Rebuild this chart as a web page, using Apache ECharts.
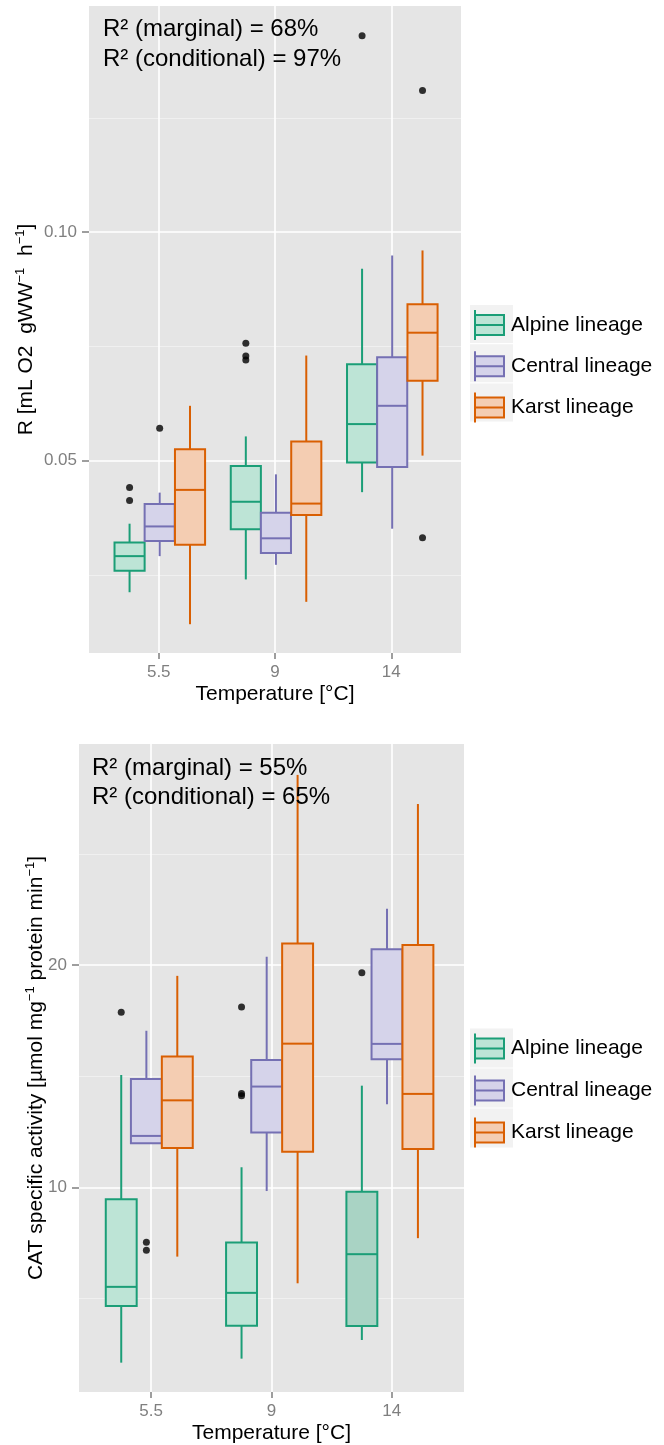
<!DOCTYPE html>
<html>
<head>
<meta charset="utf-8">
<script src="https://cdn.jsdelivr.net/npm/echarts@6/dist/echarts.min.js"></script>
<style>
html, body { margin: 0; padding: 0; background: #fff; }
#main { width: 664px; height: 1445px; }
</style>
</head>
<body>
<div id="main"></div>
<script>
var temps = ['5.5', '9', '14'];
var lineages = ['Alpine lineage', 'Central lineage', 'Karst lineage'];

// respiration, per temperature: [low, q1, median, q3, high]
var respAlpine = [[0.0212, 0.0259, 0.0291, 0.0321, 0.0362], [0.0240, 0.0350, 0.0410, 0.0488, 0.0553], [0.0431, 0.0496, 0.0580, 0.0711, 0.0920]];
var respCentral = [[0.0291, 0.0324, 0.0356, 0.0405, 0.0430], [0.0272, 0.0298, 0.0330, 0.0386, 0.0470], [0.0351, 0.0486, 0.0620, 0.0726, 0.0949]];
var respKarst = [[0.0142, 0.0316, 0.0436, 0.0525, 0.0620], [0.0191, 0.0381, 0.0406, 0.0542, 0.0730], [0.0511, 0.0675, 0.0780, 0.0842, 0.0960]];
// outliers: [temperature index, value]
var respAlpineOut = [[0, 0.0441], [0, 0.0413], [1, 0.0757], [1, 0.0729], [1, 0.0720], [2, 0.1430]];
var respCentralOut = [[0, 0.0571]];
var respKarstOut = [[2, 0.1310], [2, 0.0331]];

// CAT activity
var catAlpine = [[2.11, 4.66, 5.52, 9.46, 15.05], [2.29, 3.77, 5.25, 7.51, 10.90], [3.13, 3.76, 6.99, 9.80, 14.57]];
var catCentral = [[11.98, 11.98, 12.31, 14.87, 17.04], [9.83, 12.46, 14.53, 15.73, 20.37], [13.73, 15.76, 16.45, 20.71, 22.53]];
var catKarst = [[6.88, 11.77, 13.91, 15.88, 19.51], [5.68, 11.60, 16.46, 20.96, 28.55], [7.71, 11.72, 14.20, 20.90, 27.24]];
var catAlpineOut = [[0, 17.87], [1, 18.11], [1, 14.22], [1, 14.12], [2, 19.65]];
var catCentralOut = [[0, 7.53], [0, 7.17]];
var catKarstOut = [];

var r2Marginal = [68, 55];
var r2Conditional = [97, 65];

var respTicks = [0.05, 0.10];
var respMinor = [0.025, 0.075, 0.125];
var catTicks = [10, 20];
var catMinor = [5, 15, 25];

var FONT = '"Liberation Sans", Arial, sans-serif';
var strokes = ['#1b9e77', '#7570b3', '#d95f02'];
var fills = ['#bde4d6', '#d5d3ea', '#f4cdb2'];
var denseFill = '#a9d3c4';
var KEY_PATH = 'path://M0,0L0,30M0,5L29,5L29,25L0,25ZM0,15L29,15';

var panels = [{
	boxes: [respAlpine, respCentral, respKarst],
	outliers: [respAlpineOut, respCentralOut, respKarstOut],
	grid: { left: 89, top: 6, width: 372, height: 647 },
	yMin: 0.0079, yMax: 0.1495,
	ticks: respTicks, minor: respMinor,
	fmt: function(v) { return v.toFixed(2); },
	yName: 'R [mL O2  gWW{s|−1}  h{s|−1}]',
	yGap: 51,
	dodge: [-0.251, 0.008, 0.269],
	boxWidth: 0.259,
	dense: null,
	note: { left: 103, top: 15, lineHeight: 29.4 },
	legendTop: 309, keyGap: 9.3, bgTop: 305, bgH: 38, bgGap: 1.3
}, {
	boxes: [catAlpine, catCentral, catKarst],
	outliers: [catAlpineOut, catCentralOut, catKarstOut],
	grid: { left: 79, top: 744, width: 385, height: 648 },
	yMin: 0.79, yMax: 29.94,
	ticks: catTicks, minor: catMinor,
	fmt: function(v) { return String(v); },
	yName: 'CAT specific activity [µmol mg{s|−1} protein min{s|−1}]',
	yGap: 31,
	dodge: [-0.249, -0.040, 0.217],
	boxWidth: 0.257,
	dense: [0, 2],
	note: { left: 92, top: 754.5, lineHeight: 28.7 },
	legendTop: 1032.5, keyGap: 10, bgTop: 1028.5, bgH: 39, bgGap: 1
}];

// category i sits at x = i + 1 on the value axis
function makeRender(p, k) {
	return function(params, api) {
		var cat = api.value(0);
		var x = cat + 1 + p.dodge[k];
		var low = api.coord([x, api.value(1)]);
		var q1 = api.coord([x, api.value(2)]);
		var med = api.coord([x, api.value(3)]);
		var q3 = api.coord([x, api.value(4)]);
		var high = api.coord([x, api.value(5)]);
		var half = api.size([p.boxWidth, 0])[0] / 2;
		var fill = fills[k];
		if(p.dense && p.dense[0] === k && p.dense[1] === cat) {
			fill = denseFill;
		}
		var ls = { stroke: strokes[k], lineWidth: 2 };
		return {
			type: 'group',
			children: [
				{ type: 'line', shape: { x1: low[0], y1: low[1], x2: q1[0], y2: q1[1] }, style: ls },
				{ type: 'line', shape: { x1: q3[0], y1: q3[1], x2: high[0], y2: high[1] }, style: ls },
				{ type: 'rect', shape: { x: q3[0] - half, y: q3[1], width: half * 2, height: q1[1] - q3[1] },
					style: { fill: fill, stroke: strokes[k], lineWidth: 2 } },
				{ type: 'line', shape: { x1: med[0] - half, y1: med[1], x2: med[0] + half, y2: med[1] }, style: ls }
			]
		};
	};
}

var grids = [], xAxes = [], yAxes = [], series = [], titles = [], legends = [];

panels.forEach(function(p, pi) {
	grids.push({
		left: p.grid.left, top: p.grid.top, width: p.grid.width, height: p.grid.height,
		show: true, backgroundColor: '#e5e5e5', borderWidth: 0
	});

	xAxes.push({
		type: 'value', gridIndex: pi, min: 0.4, max: 3.6,
		name: 'Temperature [°C]', nameLocation: 'middle', nameGap: 31,
		nameTextStyle: { fontSize: 21, color: '#000', fontFamily: FONT },
		axisLine: { show: false },
		axisTick: { show: true, customValues: [1, 2, 3], length: 6, lineStyle: { color: '#7f7f7f', width: 1.5 } },
		axisLabel: { customValues: [1, 2, 3], margin: 11, fontSize: 17, color: '#7f7f7f', fontFamily: FONT,
			formatter: function(v) { return temps[Math.round(v) - 1]; } },
		splitLine: { show: true, lineStyle: { color: '#fff', width: 1.6 } }
	});

	// major y axis with labels
	yAxes.push({
		type: 'value', gridIndex: pi, min: p.yMin, max: p.yMax, position: 'left',
		name: p.yName, nameLocation: 'middle', nameGap: p.yGap, nameRotate: 90, nameMoveOverlap: false,
		nameTextStyle: {
			fontSize: 21, color: '#000', fontFamily: FONT, lineHeight: 24,
			rich: { s: { fontSize: 13, fontFamily: FONT, color: '#000', verticalAlign: 'top', lineHeight: 13 } }
		},
		axisLine: { show: false },
		axisTick: { show: true, customValues: p.ticks, length: 7, lineStyle: { color: '#7f7f7f', width: 1.5 } },
		axisLabel: { customValues: p.ticks, margin: 12, fontSize: 17, color: '#7f7f7f', fontFamily: FONT, formatter: p.fmt },
		splitLine: { show: true, lineStyle: { color: '#fff', width: 1.6 } }
	});
	// minor grid lines
	yAxes.push({
		type: 'value', gridIndex: pi, min: p.yMin, max: p.yMax, position: 'right',
		axisLine: { show: false },
		axisTick: { show: false, customValues: p.minor },
		axisLabel: { show: false, customValues: p.minor },
		splitLine: { show: true, lineStyle: { color: '#f2f2f2', width: 0.8 } }
	});

	p.boxes.forEach(function(rows, k) {
		series.push({
			type: 'custom',
			name: lineages[k],
			xAxisIndex: pi,
			yAxisIndex: pi * 2,
			color: strokes[k],
			renderItem: makeRender(p, k),
			encode: { x: 0, y: [1, 2, 3, 4, 5] },
			data: rows.map(function(b, i) { return [i].concat(b); }),
			z: 2
		});
	});
	p.boxes.forEach(function(rows, k) {
		series.push({
			type: 'scatter',
			name: 'outliers',
			xAxisIndex: pi,
			yAxisIndex: pi * 2,
			symbol: 'circle',
			symbolSize: 7,
			itemStyle: { color: '#000' },
			data: p.outliers[k].map(function(o) { return [o[0] + 1 + p.dodge[k], o[1]]; }),
			z: 3
		});
	});

	titles.push({
		text: 'R² (marginal) = ' + r2Marginal[pi] + '%\nR² (conditional) = ' + r2Conditional[pi] + '%',
		left: p.note.left, top: p.note.top, padding: 0,
		textStyle: { fontSize: 24, lineHeight: p.note.lineHeight, fontWeight: 'normal', color: '#000', fontFamily: FONT }
	});

	// legend key backgrounds
	legends.push({
		orient: 'vertical', left: 470, top: p.bgTop, padding: 0, z: 3,
		itemWidth: 43, itemHeight: p.bgH, itemGap: p.bgGap, selectedMode: false,
		textStyle: { color: 'rgba(0,0,0,0)', fontSize: 21, fontFamily: FONT },
		data: lineages.map(function(n) { return { name: n, icon: 'rect', itemStyle: { color: '#f2f2f2', borderWidth: 0 } }; })
	});
	legends.push({
		orient: 'vertical', left: 474, top: p.legendTop, padding: 0, z: 4,
		itemWidth: 29, itemHeight: 30, itemGap: p.keyGap, selectedMode: false,
		textStyle: { color: '#000', fontSize: 21, fontFamily: FONT, padding: [0, 0, 0, 2] },
		data: lineages.map(function(n, k) {
			return { name: n, icon: KEY_PATH, itemStyle: { color: fills[k], borderColor: strokes[k], borderWidth: 2 } };
		})
	});
});

var chart = echarts.init(document.getElementById('main'));
chart.setOption({
	backgroundColor: '#fff',
	animation: false,
	textStyle: { fontFamily: FONT },
	title: titles,
	legend: legends,
	grid: grids,
	xAxis: xAxes,
	yAxis: yAxes,
	series: series
});
</script>
</body>
</html>
